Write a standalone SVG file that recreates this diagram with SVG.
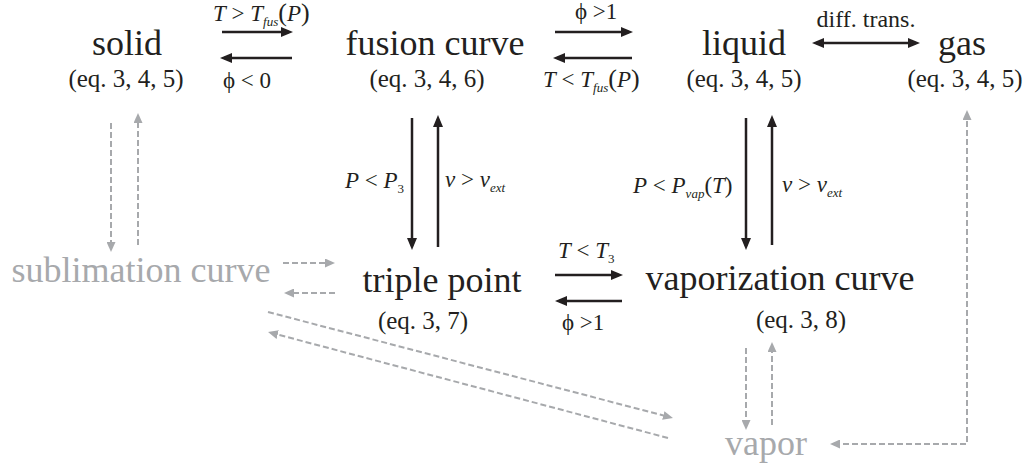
<svg xmlns="http://www.w3.org/2000/svg" width="1034" height="469" viewBox="0 0 1034 469">
<style>
text{font-family:'Liberation Serif','Tinos','Times New Roman','DejaVu Serif',serif;fill:#231f20}
.main{font-size:36px;text-anchor:middle}
.eq{font-size:25px;text-anchor:middle}
.gray{fill:#a7a9ac}
.lbl{font-size:23px}
.i{font-style:italic}
.sub{font-size:13px;font-style:italic}
.subn{font-size:13px}
.blk{stroke:#231f20;stroke-width:2.5;fill:none}
.dsh{stroke:#a7a9ac;stroke-width:2;fill:none;stroke-dasharray:6 3}
</style>
<defs>
<marker id="ab" markerUnits="userSpaceOnUse" markerWidth="12" markerHeight="10" refX="8" refY="5" orient="auto-start-reverse"><path d="M0,0 L12,5 L0,10 z" fill="#231f20"/></marker>
<marker id="ag" markerUnits="userSpaceOnUse" markerWidth="10" markerHeight="9" refX="6" refY="4.5" orient="auto-start-reverse"><path d="M0,0 L10,4.5 L0,9 z" fill="#a7a9ac"/></marker>
</defs>
<g id="connectors">
<path class="blk" d="M222,32 H289" marker-end="url(#ab)"/>
<path class="blk" d="M292,58 H224" marker-end="url(#ab)"/>
<path class="blk" d="M555,32 H629" marker-end="url(#ab)"/>
<path class="blk" d="M632,58 H557" marker-end="url(#ab)"/>
<path class="blk" d="M816,43 H916" marker-start="url(#ab)" marker-end="url(#ab)"/>
<path class="blk" d="M412,118 V246" marker-end="url(#ab)"/>
<path class="blk" d="M438,247 V119" marker-end="url(#ab)"/>
<path class="blk" d="M746,118 V246" marker-end="url(#ab)"/>
<path class="blk" d="M772,245 V119" marker-end="url(#ab)"/>
<path class="blk" d="M555,275 H619" marker-end="url(#ab)"/>
<path class="blk" d="M622,301 H559" marker-end="url(#ab)"/>
<path class="dsh" d="M111,123 V248" marker-end="url(#ag)"/>
<path class="dsh" d="M138,245 V117" marker-end="url(#ag)"/>
<path class="dsh" d="M283,263 H331" marker-end="url(#ag)"/>
<path class="dsh" d="M335,293 H288" marker-end="url(#ag)"/>
<path class="dsh" d="M268,312 L669.1,417" marker-end="url(#ag)"/>
<path class="dsh" d="M668,438 L271.9,333" marker-end="url(#ag)"/>
<path class="dsh" d="M746,348 V426" marker-end="url(#ag)"/>
<path class="dsh" d="M772,425 V346" marker-end="url(#ag)"/>
<path class="dsh" d="M834,444 H967 V114" marker-start="url(#ag)" marker-end="url(#ag)"/>
</g>
<g id="labels">
<text class="lbl" x="213" y="21"><tspan class="i">T</tspan> &gt; <tspan class="i">T</tspan><tspan class="sub" dy="5">fus</tspan><tspan dy="-5" font-size="26">(</tspan><tspan class="i">P</tspan><tspan font-size="26">)</tspan></text>
<text class="lbl" x="223" y="88">ϕ &lt; 0</text>
<text class="lbl" x="575" y="19">ϕ &gt;1</text>
<text class="lbl" x="543" y="87"><tspan class="i">T</tspan> &lt; <tspan class="i">T</tspan><tspan class="sub" dy="5">fus</tspan><tspan dy="-5" font-size="26">(</tspan><tspan class="i">P</tspan><tspan font-size="26">)</tspan></text>
<text class="lbl" x="345" y="188"><tspan class="i">P</tspan> &lt; <tspan class="i">P</tspan><tspan class="subn" dy="5">3</tspan></text>
<text class="lbl" x="445" y="187"><tspan class="i">v</tspan> &gt; <tspan class="i">v</tspan><tspan class="sub" dy="5">ext</tspan></text>
<text class="lbl" x="633" y="193"><tspan class="i">P</tspan> &lt; <tspan class="i">P</tspan><tspan class="sub" dy="5">vap</tspan><tspan dy="-5">(</tspan><tspan class="i">T</tspan>)</text>
<text class="lbl" x="782" y="192"><tspan class="i">v</tspan> &gt; <tspan class="i">v</tspan><tspan class="sub" dy="5">ext</tspan></text>
<text class="lbl" x="558" y="258"><tspan class="i">T</tspan> &lt; <tspan class="i">T</tspan><tspan class="subn" dy="5">3</tspan></text>
<text class="lbl" x="562" y="330">ϕ &gt;1</text>
<text x="866" y="27" font-size="24" text-anchor="middle">diff. trans.</text>
</g>
<g id="solid"><text class="main" x="127" y="55">solid</text><text class="eq" x="126" y="87">(eq. 3, 4, 5)</text></g>
<g id="fusion-curve"><text class="main" x="435" y="55">fusion curve</text><text class="eq" x="427" y="87">(eq. 3, 4, 6)</text></g>
<g id="liquid"><text class="main" x="744" y="55">liquid</text><text class="eq" x="744" y="87">(eq. 3, 4, 5)</text></g>
<g id="gas"><text class="main" x="962" y="55">gas</text><text class="eq" x="965" y="87">(eq. 3, 4, 5)</text></g>
<g id="sublimation-curve"><text class="main gray" x="141" y="282">sublimation curve</text></g>
<g id="triple-point"><text class="main" x="442" y="292">triple point</text><text class="eq" x="423" y="329">(eq. 3, 7)</text></g>
<g id="vaporization-curve"><text class="main" x="780" y="290">vaporization curve</text><text class="eq" x="801" y="328">(eq. 3, 8)</text></g>
<g id="vapor"><text class="main gray" x="766" y="455">vapor</text></g>
</svg>
